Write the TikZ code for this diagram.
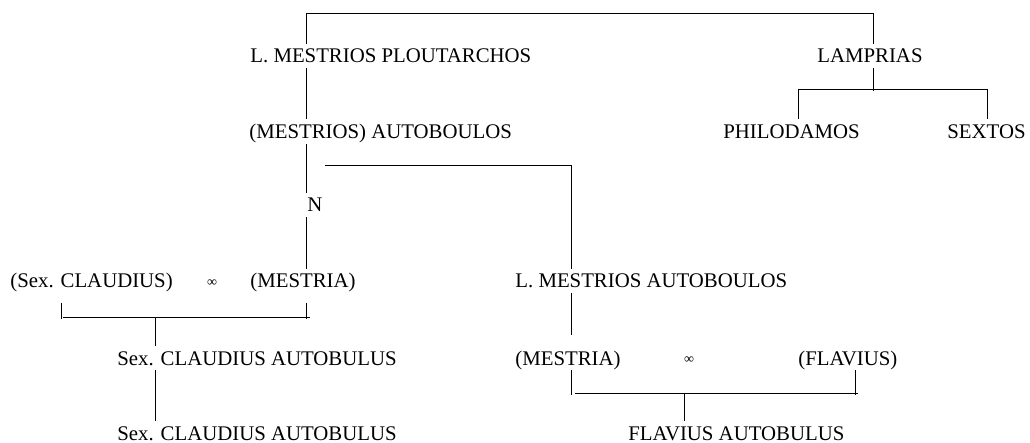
\documentclass[tikz,border=0pt]{standalone}
\usepackage{fontspec}
\setmainfont{Liberation Serif}
\begin{document}
\begin{tikzpicture}[x=1pt,y=-1pt,line width=0.8pt,
  nm/.style={anchor=base west,inner sep=0pt,text height=19pt,text depth=5pt,font=\fontsize{20.8}{24}\selectfont},
  inf/.style={inner sep=0pt,font=\fontsize{14}{16}\selectfont}]
\useasboundingbox (0,0) rectangle (1030,443);
% names
\node[nm] (plout) at (250,63) {L. MESTRIOS PLOUTARCHOS};
\node[nm] (lamp) at (817,63) {LAMPRIAS};
\node[nm] (autob) at (249,138.5) {(MESTRIOS) AUTOBOULOS};
\node[nm] (phil) at (723,138.5) {PHILODAMOS};
\node[nm] (sext) at (947,138.5) {SEXTOS};
\node[nm] (N) at (307,212) {N};
\node[nm] (sexcl) at (10,288) {(Sex. CLAUDIUS)};
\node[inf] (inf1) at (212,283) {∞};
\node[nm] (mes1) at (250,288) {(MESTRIA)};
\node[nm] (lmaut) at (515,288) {L. MESTRIOS AUTOBOULOS};
\node[nm] (sca1) at (117,365) {Sex. CLAUDIUS AUTOBULUS};
\node[nm] (mes2) at (515,365) {(MESTRIA)};
\node[inf] (inf2) at (689,360) {∞};
\node[nm] (flav) at (798,365) {(FLAVIUS)};
\node[nm] (sca2) at (117,440) {Sex. CLAUDIUS AUTOBULUS};
\node[nm] (flaut) at (628,440) {FLAVIUS AUTOBULUS};
% line ends
\coordinate (ta) at (306,13); \coordinate (tb) at (873,13);
\coordinate (la) at (798,89); \coordinate (lb) at (987,89); \coordinate (lc) at (873,91);
\coordinate (ma) at (325,165); \coordinate (mb) at (571,165);
\coordinate (m2t) at (571,335);
\coordinate (ca) at (63,317); \coordinate (cb) at (310,317);
\coordinate (cl) at (61,303); \coordinate (cl2) at (61,319);
\coordinate (cr) at (306,303); \coordinate (cr2) at (306,319);
\coordinate (cm) at (155,317);
\coordinate (da) at (575,393); \coordinate (db) at (858,393); \coordinate (dm) at (684,393);
\coordinate (dl) at (571,395); \coordinate (dr) at (855,395);
% connectors
\draw (ta) -- (tb);
\draw (ta) -- (plout.north -| ta);
\draw (plout.south -| ta) -- (autob.north -| ta);
\draw (autob.south -| ta) -- (N.north -| ta);
\draw (N.south -| ta) -- (mes1.north -| ta);
\draw (cr) -- (cr2);
\draw (tb) -- (lamp.north -| tb);
\draw (lamp.south -| tb) -- (lc);
\draw (la) -- (lb);
\draw (la) -- (phil.north -| la);
\draw (lb) -- (sext.north -| lb);
\draw (ma) -- (mb) -- (lmaut.north -| mb);
\draw (lmaut.south -| mb) -- (m2t);
\draw (mes2.south -| mb) -- (dl);
\draw (flav.south -| dr) -- (dr);
\draw (da) -- (db);
\draw (dm) -- (flaut.north -| dm);
\draw (cl) -- (cl2);
\draw (ca) -- (cb);
\draw (cm) -- (sca1.north -| cm);
\draw (sca1.south -| cm) -- (sca2.north -| cm);
\end{tikzpicture}
\end{document}
